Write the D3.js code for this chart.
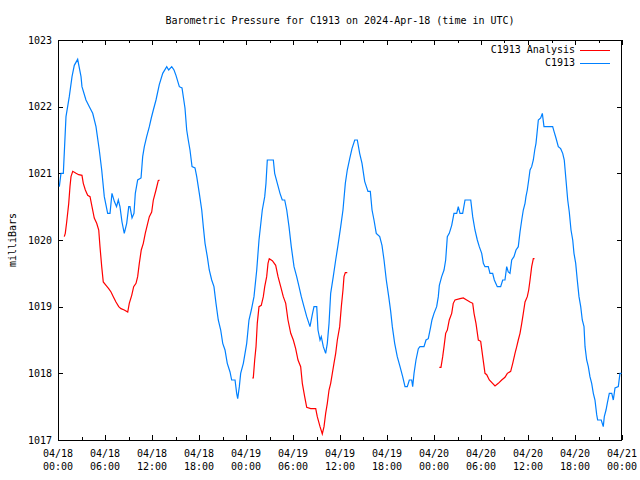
<!DOCTYPE html>
<html><head><meta charset="utf-8">
<script src="https://cdn.jsdelivr.net/npm/d3@7"></script>
<style>
body{margin:0;background:#fff}
text{font-family:"DejaVu Sans Mono","Liberation Mono",monospace;font-size:10px;fill:#000}
</style>
</head><body><svg id="chart" width="640" height="480"></svg>
<script>
const chartTitle = "Barometric Pressure for C1913 on 2024-Apr-18 (time in UTC)";
const yAxisLabel = "milliBars";
const seriesNames = ["C1913 Analysis", "C1913"];
const seriesColors = ["#ff0000", "#0080ff"];
const yTickValues = [1017, 1018, 1019, 1020, 1021, 1022, 1023];
const startTime = Date.UTC(2024, 3, 18, 0, 0);
const endTime = Date.UTC(2024, 3, 21, 0, 0);

// C1913 observed pressure: hours since 2024-04-18 00:00 UTC, milliBars
const c1913Hours = [0.17,0.38,0.68,1.02,1.44,1.79,2.08,2.51,2.94,3.06,3.57,4.0,4.43,4.85,5.27,5.58,5.91,6.34,6.64,6.89,7.19,7.47,7.70,7.91,8.17,8.46,8.77,9.03,9.19,9.45,9.70,9.87,10.17,10.60,10.81,11.02,11.32,11.66,11.91,12.17,12.51,12.93,13.37,13.88,14.13,14.52,14.81,15.06,15.49,15.83,16.21,16.43,16.63,16.85,17.11,17.49,17.71,18.04,18.35,18.55,18.77,19.06,19.31,19.62,19.91,20.17,20.46,20.77,21.03,21.32,21.61,21.96,22.17,22.60,22.81,22.94,23.15,23.32,23.66,24.09,24.38,24.68,25.02,25.37,25.66,26.08,26.39,26.55,26.72,27.49,27.66,28.0,28.34,28.63,28.94,29.2,29.49,29.78,30.13,30.47,30.77,31.06,31.40,31.75,32.17,32.46,32.68,33.03,33.19,33.45,33.61,33.87,34.17,34.38,34.60,34.81,35.14,35.45,35.74,36.09,36.38,36.68,36.93,37.24,37.53,37.88,38.21,38.51,38.81,39.15,39.57,39.87,40.09,40.34,40.63,41.07,41.36,41.62,41.91,42.22,42.47,42.68,42.98,43.31,43.62,44.0,44.30,44.59,44.85,45.15,45.28,45.45,45.70,46.0,46.21,46.72,46.98,47.27,47.58,47.74,48.0,48.34,48.55,48.68,48.98,49.28,49.49,49.70,49.95,50.26,50.55,50.90,51.10,51.32,51.66,51.96,52.69,52.94,53.23,53.53,53.78,54.09,54.30,54.51,54.93,55.15,55.49,55.70,56.08,56.51,56.77,57.06,57.28,57.48,57.70,57.92,58.21,58.47,58.76,58.98,59.20,59.40,59.62,59.74,59.91,60.09,60.26,60.47,60.68,60.86,61.02,61.15,61.32,61.62,61.83,62.04,63.15,63.32,63.57,63.87,64.17,64.43,64.63,64.85,65.07,65.27,65.49,65.71,65.87,66.09,66.29,66.51,66.73,66.93,67.15,67.28,67.49,67.70,67.91,68.13,68.34,68.55,68.77,68.89,69.35,69.48,69.61,69.74,69.96,70.12,70.38,70.69,70.89,71.11,71.53,71.74,71.94];
const c1913Values = [1020.80,1021.0,1021.0,1021.85,1022.15,1022.45,1022.62,1022.71,1022.45,1022.3,1022.1,1022.0,1021.9,1021.7,1021.35,1021.05,1020.65,1020.4,1020.4,1020.7,1020.58,1020.5,1020.6,1020.5,1020.27,1020.1,1020.25,1020.5,1020.5,1020.33,1020.4,1020.7,1020.9,1020.93,1021.25,1021.4,1021.55,1021.7,1021.83,1021.95,1022.1,1022.33,1022.5,1022.6,1022.55,1022.6,1022.55,1022.47,1022.3,1022.28,1021.98,1021.65,1021.5,1021.35,1021.1,1021.08,1020.95,1020.7,1020.45,1020.2,1019.95,1019.75,1019.55,1019.4,1019.3,1019.05,1018.8,1018.65,1018.45,1018.35,1018.15,1018.02,1017.9,1017.9,1017.7,1017.62,1017.8,1018.0,1018.15,1018.45,1018.8,1018.95,1019.15,1019.55,1020.0,1020.45,1020.65,1020.85,1021.2,1021.2,1021.0,1020.85,1020.7,1020.6,1020.6,1020.45,1020.2,1019.9,1019.6,1019.45,1019.3,1019.15,1019.0,1018.85,1018.7,1018.88,1019.0,1019.0,1018.65,1018.5,1018.55,1018.4,1018.3,1018.45,1018.75,1019.2,1019.45,1019.7,1019.92,1020.2,1020.45,1020.85,1021.05,1021.22,1021.37,1021.5,1021.5,1021.3,1021.15,1020.88,1020.73,1020.73,1020.45,1020.3,1020.1,1020.05,1019.92,1019.7,1019.4,1019.15,1018.93,1018.7,1018.45,1018.25,1018.12,1017.95,1017.8,1017.8,1017.9,1017.9,1017.8,1018.0,1018.2,1018.37,1018.4,1018.4,1018.5,1018.52,1018.7,1018.8,1018.9,1019.0,1019.15,1019.32,1019.45,1019.55,1019.7,1020.05,1020.1,1020.22,1020.4,1020.4,1020.5,1020.4,1020.4,1020.6,1020.6,1020.35,1020.15,1020.0,1019.9,1019.8,1019.65,1019.6,1019.6,1019.5,1019.5,1019.4,1019.3,1019.3,1019.4,1019.4,1019.6,1019.52,1019.5,1019.7,1019.75,1019.85,1019.9,1020.12,1020.3,1020.45,1020.55,1020.65,1020.75,1020.9,1021.05,1021.1,1021.2,1021.35,1021.45,1021.6,1021.8,1021.83,1021.9,1021.7,1021.7,1021.63,1021.53,1021.4,1021.37,1021.3,1021.2,1020.9,1020.6,1020.42,1020.15,1020.0,1019.8,1019.65,1019.4,1019.15,1019.0,1018.8,1018.7,1018.4,1018.2,1018.1,1017.95,1017.85,1017.7,1017.6,1017.38,1017.3,1017.3,1017.25,1017.2,1017.35,1017.45,1017.55,1017.7,1017.7,1017.6,1017.78,1017.8,1018.0,1018.0];

// C1913 Analysis: hours since start, milliBars (null = gap)
const analysisHours = [0.80,0.93,1.11,1.37,1.53,1.66,1.88,2.30,2.64,3.06,3.23,3.49,3.79,4.09,4.34,4.63,4.94,5.20,5.36,5.58,5.78,6.13,6.47,6.77,7.06,7.40,7.75,8.04,8.46,8.90,9.10,9.41,9.66,9.96,10.17,10.38,10.63,10.89,11.14,11.45,11.66,11.96,12.17,12.51,12.80,12.96,
  18.0,
  24.80,24.93,25.11,25.28,25.44,25.66,25.95,26.21,26.39,26.64,26.81,26.97,27.36,27.79,28.09,28.43,28.76,29.07,29.36,29.71,30.04,30.34,30.64,30.98,31.19,31.49,31.75,32.26,32.90,33.10,33.45,33.74,33.96,34.17,34.38,34.60,34.81,35.02,35.23,35.45,35.66,35.96,36.17,36.38,36.51,36.68,36.93,
  42.0,
  48.68,48.89,49.11,49.28,49.49,49.70,49.95,50.26,50.46,50.68,51.32,51.74,52.17,52.60,52.94,53.11,53.36,53.66,53.96,54.22,54.51,54.73,55.06,55.79,56.21,56.64,57.06,57.36,57.79,58.05,58.34,58.56,58.76,58.98,59.20,59.40,59.62,59.91,60.09,60.26,60.47,60.68,60.83];
const analysisValues = [1020.05,1020.1,1020.27,1020.55,1020.8,1020.95,1021.03,1021.0,1020.98,1020.97,1020.85,1020.75,1020.67,1020.65,1020.5,1020.33,1020.25,1020.15,1019.9,1019.6,1019.37,1019.32,1019.27,1019.22,1019.15,1019.07,1019.0,1018.97,1018.95,1018.92,1019.05,1019.17,1019.3,1019.35,1019.45,1019.65,1019.85,1019.95,1020.1,1020.25,1020.35,1020.42,1020.6,1020.75,1020.89,1020.9,
  null,
  1017.93,1017.93,1018.2,1018.4,1018.75,1019.0,1019.02,1019.15,1019.3,1019.45,1019.65,1019.72,1019.69,1019.62,1019.45,1019.3,1019.15,1019.05,1018.8,1018.6,1018.5,1018.37,1018.2,1018.1,1017.85,1017.65,1017.49,1017.47,1017.47,1017.35,1017.2,1017.09,1017.2,1017.4,1017.55,1017.75,1017.85,1018.0,1018.15,1018.3,1018.5,1018.7,1019.0,1019.25,1019.45,1019.51,1019.51,
  null,
  1018.09,1018.09,1018.25,1018.4,1018.6,1018.65,1018.8,1018.9,1019.05,1019.1,1019.12,1019.13,1019.1,1019.07,1019.05,1018.9,1018.75,1018.5,1018.48,1018.25,1018.0,1017.98,1017.9,1017.81,1017.85,1017.9,1017.94,1018.0,1018.03,1018.15,1018.3,1018.4,1018.5,1018.6,1018.75,1018.9,1019.07,1019.15,1019.25,1019.4,1019.6,1019.72,1019.72];

const svg = d3.select("#chart");
const L = 58, R = 622, T = 40, B = 440;
const toDate = h => new Date(startTime + h * 3600e3);
const x = d3.scaleUtc().domain([new Date(startTime), new Date(endTime)]).range([L, R]);
const y = d3.scaleLinear().domain([1017, 1023]).range([B, T]);

const majorTicks = d3.utcHour.every(6).range(new Date(startTime), new Date(endTime + 1));
const minorTicks = d3.utcHour.every(3).range(new Date(startTime), new Date(endTime + 1));
const fmtDate = d3.utcFormat("%m/%d"), fmtTime = d3.utcFormat("%H:%M");

const g = svg.append("g").attr("shape-rendering", "crispEdges");
// ticks (inward, mirrored)
minorTicks.forEach(t => {
  const major = t.getUTCHours() % 6 === 0;
  const len = major ? 5 : 3;
  const xx = Math.round(x(t)) + 0.5;
  g.append("line").attr("x1", xx).attr("x2", xx).attr("y1", B).attr("y2", B - len).attr("stroke", "#000");
  g.append("line").attr("x1", xx).attr("x2", xx).attr("y1", T).attr("y2", T + len).attr("stroke", "#000");
});
yTickValues.forEach(v => {
  const yy = Math.round(y(v)) + 0.5;
  g.append("line").attr("x1", L).attr("x2", L + 5).attr("y1", yy).attr("y2", yy).attr("stroke", "#000");
  g.append("line").attr("x1", R).attr("x2", R - 5).attr("y1", yy).attr("y2", yy).attr("stroke", "#000");
  svg.append("text").attr("x", L - 6).attr("y", y(v)).attr("text-anchor", "end")
    .attr("dominant-baseline", "central").text(v);
});
majorTicks.forEach(t => {
  svg.append("text").attr("x", x(t)).attr("y", 453).attr("text-anchor", "middle")
    .attr("dominant-baseline", "central").text(fmtDate(t));
  svg.append("text").attr("x", x(t)).attr("y", 466).attr("text-anchor", "middle")
    .attr("dominant-baseline", "central").text(fmtTime(t));
});

// data lines
const blueData = c1913Hours.map((h, i) => ({ t: toDate(h), v: c1913Values[i] }));
const redData = analysisHours.map((h, i) => ({ t: toDate(h), v: analysisValues[i] }));
const line = d3.line().defined(d => d.v != null).x(d => x(d.t)).y(d => y(d.v));
svg.append("path").datum(redData).attr("d", line).attr("fill", "none")
  .attr("stroke", seriesColors[0]).attr("stroke-width", 1.2);
svg.append("path").datum(blueData).attr("d", line).attr("fill", "none")
  .attr("stroke", seriesColors[1]).attr("stroke-width", 1.2);

// border
g.append("rect").attr("x", L + 0.5).attr("y", T + 0.5).attr("width", R - L - 1).attr("height", B - T)
  .attr("fill", "none").attr("stroke", "#000");

// title and labels
svg.append("text").attr("x", 340).attr("y", 20).attr("text-anchor", "middle")
  .attr("dominant-baseline", "central").text(chartTitle);
svg.append("text").attr("transform", "translate(12,240) rotate(-90)").attr("text-anchor", "middle")
  .attr("dominant-baseline", "central").text(yAxisLabel);

// legend
seriesNames.forEach((n, i) => {
  const yy = 49.5 + i * 13;
  svg.append("text").attr("x", 575).attr("y", yy).attr("text-anchor", "end")
    .attr("dominant-baseline", "central").text(n);
  g.append("line").attr("x1", 580).attr("x2", 610).attr("y1", Math.round(yy) + 0.5).attr("y2", Math.round(yy) + 0.5)
    .attr("stroke", seriesColors[i]);
});
</script>
</body></html>
